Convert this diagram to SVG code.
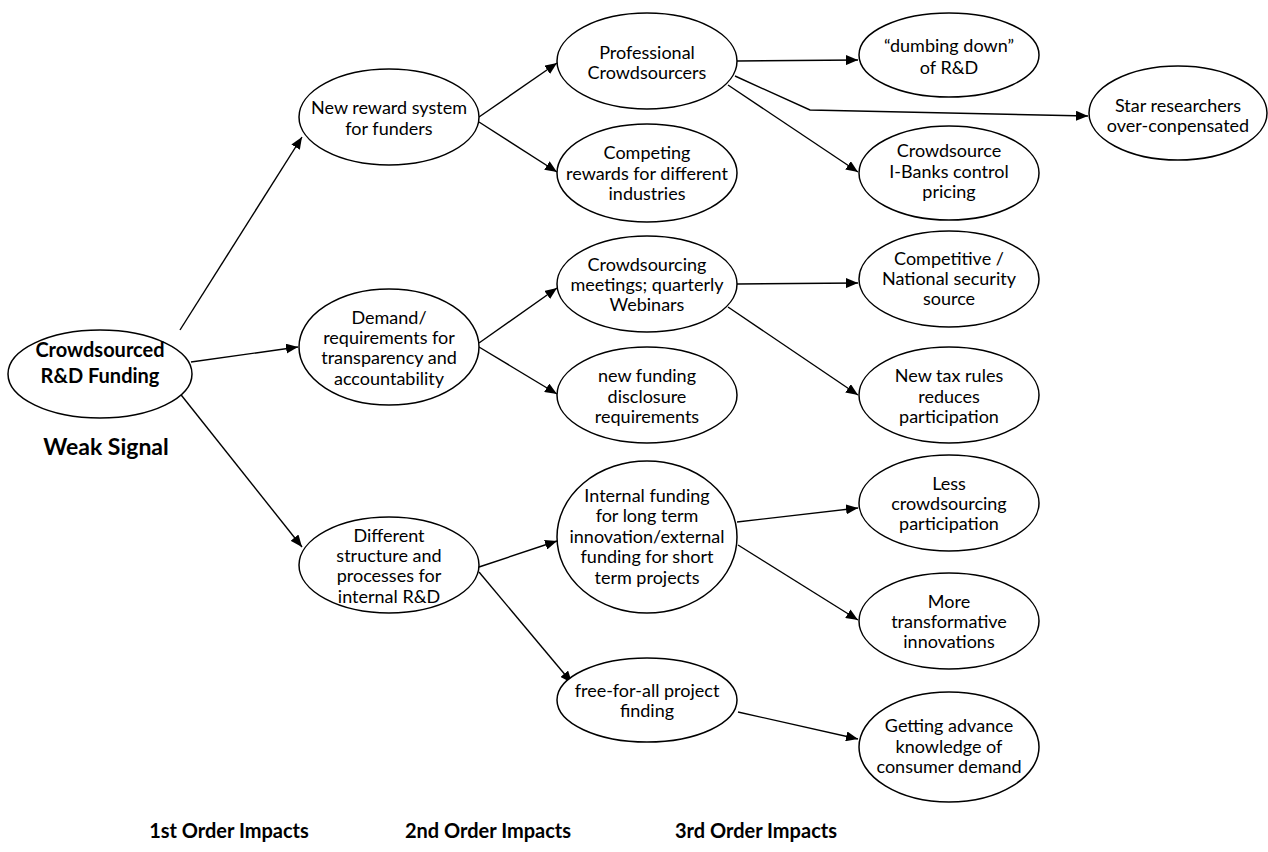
<svg xmlns="http://www.w3.org/2000/svg" width="1268" height="852" viewBox="0 0 1268 852">
  <defs>
    <marker id="arrow" viewBox="0 0 12 10" refX="12" refY="5" markerWidth="12" markerHeight="10" markerUnits="userSpaceOnUse" orient="auto">
      <path d="M0,0 L12,5 L0,10 Z" fill="#000"/>
    </marker>
    <style>
      .node ellipse { fill: #fff; stroke: #000; stroke-width: 1.5; }
      .node text { font-family: Lato, "Open Sans", "Liberation Sans", sans-serif; font-size: 18px; fill: #000; text-anchor: middle; }
      .node text.bold { font-weight: bold; font-size: 20px; }
      .edges path { fill: none; stroke: #000; stroke-width: 1.4; marker-end: url(#arrow); }
      .label { font-family: Lato, "Open Sans", "Liberation Sans", sans-serif; font-weight: bold; font-size: 20px; fill: #000; text-anchor: middle; }
      .label.big { font-size: 23px; }
    </style>
  </defs>
  <rect width="1268" height="852" fill="#fff"/>

  <!-- connectors -->
  <g id="edges" class="edges">
    <path d="M180,330 L302,137"/>
    <path d="M191,362 L298,347"/>
    <path d="M178,391 L302,547"/>
    <path d="M479,117 L557,63"/>
    <path d="M479,122 L557,172"/>
    <path d="M737,61 L858,60"/>
    <path d="M735,76 L810,110 L1088,116"/>
    <path d="M728,85 L858,172"/>
    <path d="M479,343 L557,288"/>
    <path d="M479,347 L557,394"/>
    <path d="M737,284 L858,283"/>
    <path d="M728,307 L858,395"/>
    <path d="M479,567 L557,541"/>
    <path d="M479,572 L572,683"/>
    <path d="M737,522 L858,508"/>
    <path d="M738,545 L858,620"/>
    <path d="M738,712 L858,739"/>
  </g>

  <!-- weak signal -->
  <g id="root" class="node">
    <ellipse cx="100" cy="374" rx="92" ry="44"/>
    <text class="bold" x="100" y="357">Crowdsourced</text>
    <text class="bold" x="100" y="383">R&amp;D Funding</text>
  </g>

  <!-- 1st order -->
  <g id="n-reward" class="node">
    <ellipse cx="389" cy="117" rx="90" ry="48"/>
    <text x="389" y="114">New reward system</text>
    <text x="389" y="135">for funders</text>
  </g>
  <g id="n-demand" class="node">
    <ellipse cx="389" cy="347" rx="90" ry="58"/>
    <text x="389" y="324">Demand/</text>
    <text x="389" y="344">requirements for</text>
    <text x="389" y="364">transparency and</text>
    <text x="389" y="385">accountability</text>
  </g>
  <g id="n-different" class="node">
    <ellipse cx="389" cy="565" rx="90" ry="48"/>
    <text x="389" y="542">Different</text>
    <text x="389" y="562">structure and</text>
    <text x="389" y="582">processes for</text>
    <text x="389" y="603">internal R&amp;D</text>
  </g>

  <!-- 2nd order -->
  <g id="n-professional" class="node">
    <ellipse cx="647" cy="61" rx="90" ry="48"/>
    <text x="647" y="59">Professional</text>
    <text x="647" y="79">Crowdsourcers</text>
  </g>
  <g id="n-competing" class="node">
    <ellipse cx="647" cy="173" rx="90" ry="49"/>
    <text x="647" y="159">Competing</text>
    <text x="647" y="180">rewards for different</text>
    <text x="647" y="200">industries</text>
  </g>
  <g id="n-meetings" class="node">
    <ellipse cx="647" cy="284" rx="90" ry="48"/>
    <text x="647" y="271">Crowdsourcing</text>
    <text x="647" y="291">meetings; quarterly</text>
    <text x="647" y="311">Webinars</text>
  </g>
  <g id="n-disclosure" class="node">
    <ellipse cx="647" cy="395" rx="90" ry="48"/>
    <text x="647" y="382">new funding</text>
    <text x="647" y="403">disclosure</text>
    <text x="647" y="423">requirements</text>
  </g>
  <g id="n-internal" class="node">
    <ellipse cx="647" cy="537" rx="90" ry="76"/>
    <text x="647" y="502">Internal funding</text>
    <text x="647" y="522">for long term</text>
    <text x="647" y="543">innovation/external</text>
    <text x="647" y="563">funding for short</text>
    <text x="647" y="584">term projects</text>
  </g>
  <g id="n-freeforall" class="node">
    <ellipse cx="647" cy="700" rx="90" ry="42"/>
    <text x="647" y="697">free-for-all project</text>
    <text x="647" y="717">finding</text>
  </g>

  <!-- 3rd order -->
  <g id="n-dumbing" class="node">
    <ellipse cx="949" cy="55" rx="90" ry="42"/>
    <text x="949" y="52">“dumbing down”</text>
    <text x="949" y="74">of R&amp;D</text>
  </g>
  <g id="n-star" class="node">
    <ellipse cx="1178" cy="113" rx="89" ry="47"/>
    <text x="1178" y="112">Star researchers</text>
    <text x="1178" y="132">over-conpensated</text>
  </g>
  <g id="n-ibanks" class="node">
    <ellipse cx="949" cy="173" rx="90" ry="47"/>
    <text x="949" y="157">Crowdsource</text>
    <text x="949" y="178">I-Banks control</text>
    <text x="949" y="198">pricing</text>
  </g>
  <g id="n-security" class="node">
    <ellipse cx="949" cy="279" rx="90" ry="48"/>
    <text x="949" y="265">Competitive /</text>
    <text x="949" y="285">National security</text>
    <text x="949" y="305">source</text>
  </g>
  <g id="n-tax" class="node">
    <ellipse cx="949" cy="395" rx="90" ry="48"/>
    <text x="949" y="382">New tax rules</text>
    <text x="949" y="403">reduces</text>
    <text x="949" y="423">participation</text>
  </g>
  <g id="n-less" class="node">
    <ellipse cx="949" cy="503" rx="90" ry="48"/>
    <text x="949" y="490">Less</text>
    <text x="949" y="510">crowdsourcing</text>
    <text x="949" y="530">participation</text>
  </g>
  <g id="n-more" class="node">
    <ellipse cx="949" cy="621" rx="90" ry="48"/>
    <text x="949" y="608">More</text>
    <text x="949" y="628">transformative</text>
    <text x="949" y="648">innovations</text>
  </g>
  <g id="n-advance" class="node">
    <ellipse cx="949" cy="747" rx="90" ry="55"/>
    <text x="949" y="732">Getting advance</text>
    <text x="949" y="753">knowledge of</text>
    <text x="949" y="773">consumer demand</text>
  </g>

  <!-- column labels -->
  <g id="labels">
    <text class="label big" x="106" y="455">Weak Signal</text>
    <text class="label" x="229" y="838">1st Order Impacts</text>
    <text class="label" x="488" y="838">2nd Order Impacts</text>
    <text class="label" x="756" y="838">3rd Order Impacts</text>
  </g>
</svg>
